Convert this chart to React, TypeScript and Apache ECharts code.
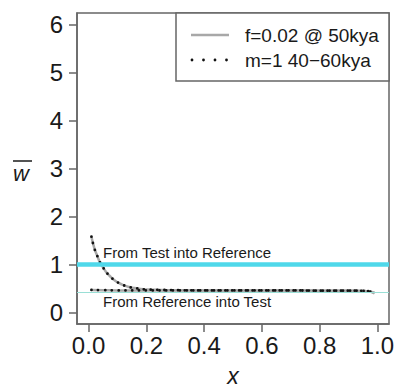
import React, { useEffect, useRef } from "react";
import * as echarts from "echarts";

// Data
const xTicks = [0, 0.2, 0.4, 0.6, 0.8, 1.0];
const yTicks = [0, 1, 2, 3, 4, 5, 6];

const testIntoRefX = [0.01, 0.02, 0.03, 0.04, 0.05, 0.06, 0.07, 0.08, 0.09, 0.1, 0.12, 0.14, 0.16, 0.18, 0.2, 0.25, 0.3, 0.4, 0.5, 0.6, 0.7, 0.8, 0.9, 0.95, 0.97, 0.99];
const testIntoRefY = [1.58, 1.34, 1.18, 1.04, 0.94, 0.85, 0.78, 0.72, 0.67, 0.63, 0.57, 0.53, 0.51, 0.49, 0.48, 0.47, 0.465, 0.46, 0.46, 0.46, 0.46, 0.455, 0.455, 0.45, 0.44, 0.41];

const refIntoTestX = [0.01, 0.05, 0.1, 0.2, 0.3, 0.4, 0.5, 0.6, 0.7, 0.8, 0.9, 0.95, 0.97, 0.99];
const refIntoTestY = [0.47, 0.465, 0.46, 0.46, 0.46, 0.46, 0.46, 0.46, 0.46, 0.455, 0.455, 0.45, 0.44, 0.4];

const neutralLine = 1;
const baselineLine = 0.43;

const legendLabels = ["f=0.02 @ 50kya", "m=1 40\u221260kya"];
const annotations = ["From Test into Reference", "From Reference into Test"];

const FONT = "'Liberation Sans', Arial, Helvetica, sans-serif";

export default function App() {
  const ref = useRef<HTMLDivElement>(null);
  useEffect(() => {
    document.body.style.margin = "0";
    const chart = echarts.init(ref.current!, null, { renderer: "svg" });
    const pair = (xs: number[], ys: number[]) => xs.map((x, i) => [x, ys[i]]);
    const upper = pair(testIntoRefX, testIntoRefY);
    const lower = pair(refIntoTestX, refIntoTestY);
    const solid = { color: "#a8a8a8", width: 2.5 };
    const dotted = { color: "#111", width: 2.8, type: [0, 6.8], cap: "round" };
    chart.setOption({
      animation: false,
      backgroundColor: "#fff",
      grid: { left: 77, top: 13, right: 8, bottom: 64, outerBoundsMode: "none", containLabel: false, show: true, borderColor: "#666", borderWidth: 1.5, backgroundColor: "transparent" },
      xAxis: {
        type: "value",
        position: "bottom",
        min: -0.04,
        max: 1.04,
        splitLine: { show: false },
        axisLine: { show: true, onZero: false, lineStyle: { color: "#666", width: 1.5 } },
        axisTick: { show: true, inside: false, length: 8, customValues: xTicks, lineStyle: { color: "#666", width: 1.5 } },
        axisLabel: { customValues: xTicks, formatter: (v: number) => v.toFixed(1), fontFamily: FONT, fontSize: 24, color: "#1a1a1a", margin: 9 },
        name: "x",
        nameLocation: "middle",
        nameGap: 40,
        nameMoveOverlap: false,
        nameTextStyle: { fontFamily: FONT, fontSize: 23, lineHeight: 23, fontStyle: "italic", color: "#1a1a1a" },
      },
      yAxis: {
        type: "value",
        position: "left",
        min: -0.24,
        max: 6.24,
        splitLine: { show: false },
        axisLine: { show: true, onZero: false, lineStyle: { color: "#666", width: 1.5 } },
        axisTick: { show: true, inside: false, length: 8, customValues: yTicks, lineStyle: { color: "#666", width: 1.5 } },
        axisLabel: { customValues: yTicks, fontFamily: FONT, fontSize: 24, color: "#1a1a1a", margin: 14 },
      },
      series: [
        {
          type: "line",
          data: upper,
          smooth: true,
          showSymbol: false,
          lineStyle: solid,
          z: 3,
          markLine: {
            silent: true,
            symbol: "none",
            label: { show: false },
            data: [
              { yAxis: neutralLine, lineStyle: { color: "#4fd8ea", width: 4.5, type: "solid" } },
              { yAxis: baselineLine, lineStyle: { color: "#9adfd6", width: 1, type: "solid" } },
            ],
          },
        },
        { type: "line", data: lower, smooth: true, showSymbol: false, lineStyle: solid, z: 3 },
        { type: "line", data: upper, smooth: true, showSymbol: false, lineStyle: dotted, z: 4 },
        { type: "line", data: lower, smooth: true, showSymbol: false, lineStyle: dotted, z: 4 },
      ],
      graphic: [
        { type: "text", left: 13, top: 162, style: { text: "w", font: `italic 22px ${FONT}`, fill: "#1a1a1a" } },
        { type: "line", shape: { x1: 13, y1: 161, x2: 32, y2: 161 }, style: { stroke: "#1a1a1a", lineWidth: 1.5 } },
        { type: "rect", shape: { x: 176, y: 13, width: 213, height: 68 }, style: { fill: "#fff", stroke: "#666", lineWidth: 1.5 }, z: 10 },
        { type: "line", shape: { x1: 191, y1: 35, x2: 229, y2: 35 }, style: { stroke: "#a8a8a8", lineWidth: 2.5 }, z: 11 },
        { type: "line", shape: { x1: 192, y1: 60, x2: 227, y2: 60 }, style: { stroke: "#111", lineWidth: 2.8, lineDash: [0, 11.5], lineCap: "round" }, z: 11 },
        { type: "text", x: 245, y: 35, style: { text: legendLabels[0], font: `19px ${FONT}`, fill: "#1a1a1a", verticalAlign: "middle" }, z: 11 },
        { type: "text", x: 245, y: 60, style: { text: legendLabels[1], font: `19px ${FONT}`, fill: "#1a1a1a", verticalAlign: "middle" }, z: 11 },
        { type: "text", x: 103, y: 252, style: { text: annotations[0], font: `15px ${FONT}`, fill: "#1a1a1a", verticalAlign: "middle" }, z: 11 },
        { type: "text", x: 103, y: 301, style: { text: annotations[1], font: `15px ${FONT}`, fill: "#1a1a1a", verticalAlign: "middle" }, z: 11 },
      ],
    });
    return () => chart.dispose();
  }, []);
  return <div ref={ref} style={{ position: "absolute", left: 0, top: 0, width: 397, height: 388 }} />;
}
